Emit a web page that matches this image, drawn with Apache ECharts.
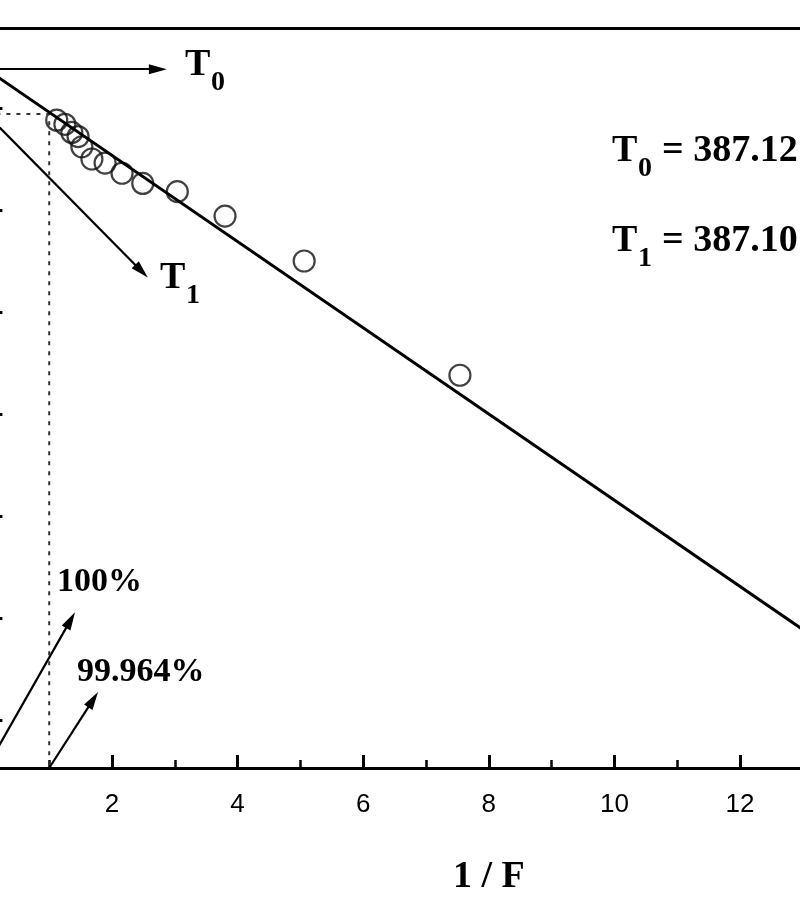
<!DOCTYPE html>
<html><head><meta charset="utf-8">
<script src="https://cdn.jsdelivr.net/npm/echarts@6/dist/echarts.min.js"></script>
<style>html,body{margin:0;padding:0;background:#fff}#c{width:800px;height:900px}</style>
</head><body><div id="c"></div>
<script>
// ---- data ----
const invF = [1.12, 1.25, 1.36, 1.46, 1.52, 1.68, 1.89, 2.16, 2.49, 3.04, 3.80, 5.06, 7.54];
const temp = [387.094, 387.092, 387.088, 387.086, 387.081, 387.075, 387.073, 387.068, 387.063, 387.059, 387.047, 387.025, 386.969];
const fitX = [0, 16];
const fitY = [387.119, 386.781];
const T0 = 387.119;
const T1 = 387.097;
const xMin = 0, xMax = 16, xStep = 2;
const yMin = 386.7765, yMax = 387.1392;
const yTicks = [386.80, 386.85, 386.90, 386.95, 387.00, 387.05, 387.10];
const arrowT0 = [[0, T0], [2.73, T0]];
const arrowT1 = [[0, T1], [2.47, 387.020]];
const arrow100 = [[0, yMin], [1.34, 386.849]];
const arrow99 = [[1, yMin], [1.70, 386.810]];
const guide = [[0, T1], [1, T1], [1, yMin]];
const pct100 = '100%';
const pct99 = '99.964%';

const serif = '"Liberation Serif","Times New Roman",serif';
function txt(x, y, text, size) {
  return {type: 'text', x: x, y: y, silent: true,
    style: {text: text, fontFamily: serif, fontWeight: 'bold', fontSize: size, fill: '#000',
            align: 'left', verticalAlign: 'middle'}};
}
function symText(x, y, sub, rest) {
  const out = [txt(x, y, 'T', 38), txt(x + 26, y + 18, sub, 28)];
  if (rest) out.push(txt(x + 50, y, rest, 38));
  return out;
}

const chart = echarts.init(document.getElementById('c'), null, {renderer: 'canvas'});
chart.setOption({
  animation: false,
  backgroundColor: '#fff',
  grid: {left: -13.6, right: -191.2, top: 28, bottom: 132, containLabel: false, outerBoundsMode: 'none'},
  xAxis: [{
    type: 'value', min: xMin, max: xMax, interval: xStep, position: 'bottom',
    name: '1 / F', nameLocation: 'middle', nameGap: 90,
    nameTextStyle: {fontFamily: serif, fontWeight: 'bold', fontSize: 38, color: '#000'},
    axisLine: {show: true, lineStyle: {color: '#000', width: 3}},
    axisTick: {show: true, inside: true, length: 13, lineStyle: {color: '#000', width: 3}},
    minorTick: {show: true, splitNumber: 2, length: 8, lineStyle: {color: '#000', width: 2.5}},
    axisLabel: {show: true, margin: 24, fontFamily: '"Liberation Sans",Arial,sans-serif', fontSize: 26, color: '#000'},
    splitLine: {show: false}
  }, {
    type: 'value', min: xMin, max: xMax, position: 'top',
    axisLine: {show: true, lineStyle: {color: '#000', width: 3}},
    axisTick: {show: false}, axisLabel: {show: false}, splitLine: {show: false}
  }],
  yAxis: {
    type: 'value', min: yMin, max: yMax, position: 'left',
    axisLine: {show: true, lineStyle: {color: '#000', width: 3}},
    axisTick: {show: true, inside: true, length: 16, customValues: yTicks, lineStyle: {color: '#000', width: 3}},
    axisLabel: {show: false},
    splitLine: {show: false}
  },
  series: [
    {type: 'line', data: guide, showSymbol: false, symbol: 'none', silent: true,
     lineStyle: {color: '#333', width: 2, type: [4, 6]}},
    {type: 'line', data: fitX.map((x, i) => [x, fitY[i]]), showSymbol: false, symbol: 'none', silent: true,
     lineStyle: {color: '#000', width: 3}},
    {type: 'scatter', data: invF.map((x, i) => [x, temp[i]]), symbol: 'circle', symbolSize: 21, silent: true,
     itemStyle: {color: 'rgba(0,0,0,0)', borderColor: '#111', borderWidth: 2.2}},
    {type: 'lines', coordinateSystem: 'cartesian2d', silent: true,
     symbol: ['none', 'triangle'], symbolSize: [0, [10, 18]],
     lineStyle: {color: '#000', width: 2.2, opacity: 1},
     data: [arrowT0, arrowT1, arrow100, arrow99].map(c => ({coords: c}))}
  ],
  graphic: [].concat(
    symText(185, 65, '0'),
    symText(160, 278, '1'),
    symText(612, 151, '0', '= ' + T0.toFixed(2)),
    symText(612, 241, '1', '= ' + T1.toFixed(2)),
    [txt(57, 582, pct100, 34), txt(77, 672, pct99, 34)]
  )
});
</script></body></html>
